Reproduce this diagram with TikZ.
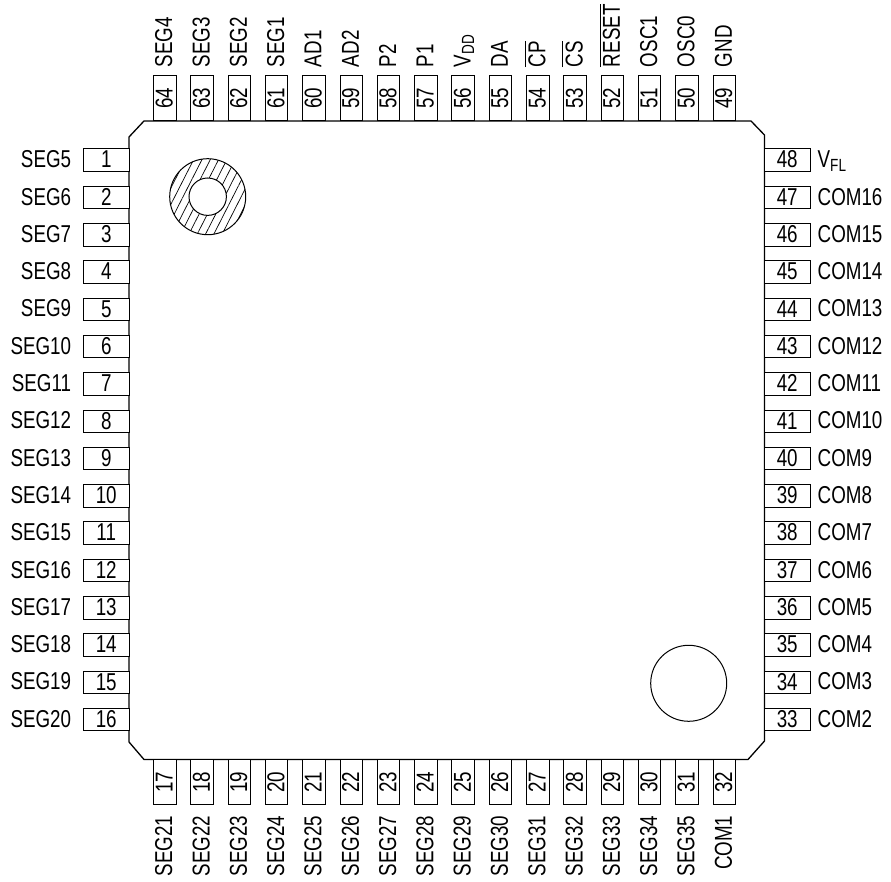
\documentclass[tikz,border=0pt]{standalone}
\usepackage{fontspec}
\setmainfont[FakeStretch=0.77]{Liberation Sans}
\usetikzlibrary{patterns.meta}
\newcommand{\pinsub}[1]{V\raisebox{-1.75pt}{\fontsize{8.8}{9}\selectfont #1}}
\newcommand{\pinbar}[1]{$\overline{\mbox{#1}}$}
\tikzset{
  pinbox/.style={draw,line width=.5pt,fill=white,inner sep=0pt,minimum width=22.75pt,minimum height=11.25pt,text height=8.75pt,text depth=1pt},
  pintext/.style={inner sep=0pt},
  vertpin/.style={pinbox,rotate=90},
  vertext/.style={pintext,rotate=90},
}
\begin{document}
\begin{tikzpicture}[x=.5pt,y=-.5pt,font=\fontsize{12.2}{14}\selectfont]
  \useasboundingbox (0,0) rectangle (891,882);
  % package outline
  \draw[line width=.65pt] (144,121) -- (751,121) -- (764.5,135) -- (764.5,741) -- (748,759.5) -- (144,759.5) -- (129,742) -- (129,137) -- cycle;
  % marks on the package
  \fill[pattern={Lines[angle=63,distance=3.7pt,line width=.35pt]}] (207.7,196.7) circle (38);
  \draw[line width=.5pt] (207.7,196.7) circle (38);
  \draw[line width=.5pt,fill=white] (207.7,196.7) circle (18.7);
  \draw[line width=.5pt] (688.7,683.3) circle (38);
  % left side
  \foreach \t [count=\n] in {SEG5,SEG6,SEG7,SEG8,SEG9,SEG10,SEG11,SEG12,SEG13,SEG14,SEG15,SEG16,SEG17,SEG18,SEG19,SEG20} {
    \node[pinbox] (p\n) at (106.25,{160.25+37.3*(\n-1)}) {\n};
    \node[pintext,anchor=base east] (l\n) at ([xshift=-5.75pt,yshift=-3.75pt]p\n.west) {\t};
  }
  % bottom side
  \foreach \t [count=\i] in {SEG21,SEG22,SEG23,SEG24,SEG25,SEG26,SEG27,SEG28,SEG29,SEG30,SEG31,SEG32,SEG33,SEG34,SEG35,COM1} {
    \pgfmathtruncatemacro{\n}{\i+16}
    \node[vertpin] (p\n) at ({164.75+37.3*(\i-1)},782) {\n};
    \node[vertext,anchor=base east] (l\n) at ([xshift=3.75pt,yshift=-5pt]p\n.west) {\t};
  }
  % right side
  \foreach \t [count=\i] in {COM2,COM3,COM4,COM5,COM6,COM7,COM8,COM9,COM10,COM11,COM12,COM13,COM14,COM15,COM16,\pinsub{FL}} {
    \pgfmathtruncatemacro{\n}{\i+32}
    \node[pinbox] (p\n) at (787.25,{719.75-37.3*(\i-1)}) {\n};
    \node[pintext,anchor=base west] (l\n) at ([xshift=3.4pt,yshift=-3.75pt]p\n.east) {\t};
  }
  % top side
  \foreach \t [count=\i] in {GND,OSC0,OSC1,\pinbar{RESET},\pinbar{CS},\pinbar{CP},DA,\pinsub{DD},P1,P2,AD2,AD1,SEG1,SEG2,SEG3,SEG4} {
    \pgfmathtruncatemacro{\n}{\i+48}
    \node[vertpin] (p\n) at ({724.25-37.3*(\i-1)},98.25) {\n};
    \node[vertext,anchor=base west] (l\n) at ([xshift=3.75pt,yshift=3.75pt]p\n.east) {\t};
  }
\end{tikzpicture}
\end{document}
